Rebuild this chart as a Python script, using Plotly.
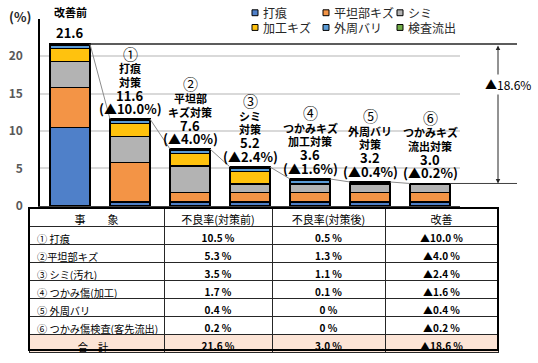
import plotly.graph_objects as go

# ---------------- data ----------------
categories = ["改善前", "①", "②", "③", "④", "⑤", "⑥"]
measure_line1 = ["打痕", "平坦部", "シミ", "つかみキズ", "外周バリ", "つかみキズ"]
measure_line2 = ["対策", "キズ対策", "対策", "加工対策", "対策", "流出対策"]
series_names = ["打痕", "平坦部キズ", "シミ", "加工キズ", "外周バリ", "検査流出"]

dakon = [10.5, 0.5, 0.5, 0.5, 0.5, 0.5, 0.5]
heitanbu_kizu = [5.3, 5.3, 1.3, 1.3, 1.3, 1.3, 1.3]
shimi = [3.5, 3.5, 3.5, 1.1, 1.1, 1.1, 1.1]
kakou_kizu = [1.7, 1.7, 1.7, 1.7, 0.1, 0.1, 0.1]
gaishu_bari = [0.4, 0.4, 0.4, 0.4, 0.4, 0.0, 0.0]
kensa_ryushutsu = [0.2, 0.2, 0.2, 0.2, 0.2, 0.2, 0.0]
series_values = [dakon, heitanbu_kizu, shimi, kakou_kizu, gaishu_bari, kensa_ryushutsu]

table_items = ["① 打痕", "②平坦部キズ", "③ シミ(汚れ)", "④ つかみ傷(加工)",
               "⑤ 外周バリ", "⑥ つかみ傷検査(客先流出)"]
table_total_label = "合　計"
table_headers = ["事　　象", "不良率(対策前)", "不良率(対策後)", "改善"]
y_ticks = [0, 5, 10, 15, 20, 25]
y_tick_labels = ["0", "5", "10", "15", "20", ""]

# ---------------- styles ----------------
colors = ["#4f80c9", "#f39446", "#b3b3b3", "#ffc20e", "#5b9bd5", "#70ad47"]
FONT = "Noto Sans CJK JP"
W, H = 538, 363


def px(x):
    return x / W


def py(y):
    return 1 - y / H


X_DOM = [px(40), px(460)]
Y_DOM = [py(210), py(19)]
BARGAP = 1 / 3
HALF = (1 - BARGAP) / 2
n = len(categories)


def xcat(idx):
    return X_DOM[0] + (idx + 0.5) / n * (X_DOM[1] - X_DOM[0])


totals = [round(sum(s[i] for s in series_values), 1) for i in range(n)]

fig = go.Figure()
for name, vals, col in zip(series_names, series_values, colors):
    fig.add_trace(go.Bar(
        x=categories, y=vals, name=name, marker=dict(color=col, line=dict(color="black", width=1.5)),
        showlegend=False, hoverinfo="skip"))

# ---------------- table ----------------
before = [s[0] for s in series_values]
after = [s[-1] for s in series_values]
improve = [round(b - a, 1) for b, a in zip(before, after)]


def fmt(v):
    return "0 %" if v == 0 else f"{v:.1f} %"


col1 = [t.replace(" ", "\u00a0") for t in table_items] + ["\u3000\u3000\u3000\u3000" + table_total_label]
col2 = [fmt(v) for v in before] + [fmt(totals[0])]
col3 = [fmt(v) for v in after] + [fmt(totals[-1])]
col4 = [f"▲{v:.1f} %" for v in improve] + [f"▲{totals[0]-totals[-1]:.1f} %"]
nrow = len(col1)
fill_col = ["white"] * (nrow - 1) + ["#fce4d6"]

fig.add_trace(go.Table(
    domain=dict(x=[px(29), px(498)], y=[py(360), py(212)]),
    columnwidth=[135, 108, 113, 113],
    header=dict(values=table_headers, fill_color="white", align="center",
                line=dict(color="#262626", width=1),
                font=dict(size=11, color="black", family=FONT), height=19),
    cells=dict(values=[col1, col2, col3, col4],
               fill_color=[fill_col] * 4,
               align=["left", "center", "center", "center"],
               line=dict(color="#262626", width=1),
               font=dict(size=[10.2, 10, 10, 10], color="black", family=FONT,
                         weight=["normal", "bold", "bold", "bold"]), height=18),
))

# ---------------- shapes ----------------
shapes = []
for i in range(n - 1):
    shapes.append(dict(type="line", xref="x", yref="y", x0=i + HALF, y0=totals[i],
                       x1=i + 1 - HALF, y1=totals[i + 1], line=dict(color="#8c8c8c", width=1)))
shapes.append(dict(type="line", xref="paper", yref="y", x0=xcat(HALF), x1=px(517),
                   y0=totals[0], y1=totals[0], line=dict(color="#262626", width=1.5)))
shapes.append(dict(type="line", xref="paper", yref="y", x0=xcat(n - 1 + HALF), x1=px(517),
                   y0=totals[-1], y1=totals[-1], line=dict(color="#404040", width=1)))
# table outer border
shapes.append(dict(type="rect", xref="paper", yref="paper", x0=px(29), x1=px(498),
                   y0=py(357), y1=py(212), line=dict(color="black", width=2)))

# manual legend
legend_pos = [(252, 13), (323, 13), (397, 13), (252, 28), (323, 28), (397, 28)]
annotations = []
for (lx, ly), name, col in zip(legend_pos, series_names, colors):
    shapes.append(dict(type="rect", xref="paper", yref="paper", x0=px(lx), x1=px(lx + 6),
                       y0=py(ly + 3), y1=py(ly - 3), fillcolor=col,
                       line=dict(color="black", width=1)))
    annotations.append(dict(x=px(lx + 9), y=py(ly), xref="paper", yref="paper", text=name,
                            showarrow=False, xanchor="left", yanchor="middle",
                            font=dict(size=12, color="#262626", family=FONT)))

# ---------------- bar labels ----------------


def label(cat, total, text, offset, size, bold=True):
    annotations.append(dict(x=cat, y=total, xref="x", yref="y", xanchor="center",
                            yanchor="middle", yshift=offset, showarrow=False, text=text,
                            font=dict(size=size, color="black", family=FONT,
                                      weight="bold" if bold else "normal")))


label(categories[0], totals[0], f"{totals[0]:.1f}", 12, 13)
label(categories[0], totals[0], categories[0], 32, 11)
for i in range(1, n):
    diff = totals[i - 1] - totals[i]
    label(categories[i], totals[i], f"(▲{diff:.1f}%)", 10.5, 13)
    label(categories[i], totals[i], f"{totals[i]:.1f}", 24, 13)
    label(categories[i], totals[i], measure_line2[i - 1], 37.5, 11)
    label(categories[i], totals[i], measure_line1[i - 1], 51, 11)
    label(categories[i], totals[i], categories[i], 66, 15, bold=False)

# double arrow
annotations.append(dict(x=px(498), xref="paper", y=totals[-1], yref="y",
                        ax=0, axref="pixel", ay=totals[0], ayref="y", text="",
                        showarrow=True, arrowhead=2, arrowside="end+start",
                        arrowwidth=1, arrowsize=0.9, arrowcolor="#262626"))
annotations.append(dict(x=px(508), y=py(86), xref="paper", yref="paper",
                        xanchor="center", yanchor="middle",
                        text=f"▲{totals[0]-totals[-1]:.1f}%", showarrow=False,
                        bgcolor="white", font=dict(size=12, color="black", family=FONT)))
# axis unit
annotations.append(dict(x=px(20), y=py(17), xref="paper", yref="paper", text="<b>(%)</b>",
                        xanchor="center", yanchor="middle",
                        showarrow=False, font=dict(size=13, color="#262626", family=FONT)))

fig.update_layout(
    width=W, height=H, margin=dict(l=0, r=0, t=0, b=0),
    paper_bgcolor="white", plot_bgcolor="white",
    barmode="stack", bargap=BARGAP, showlegend=False,
    font=dict(family=FONT),
    xaxis=dict(type="category", domain=X_DOM, range=[-0.5, n - 0.5], showticklabels=False,
               showline=True, linecolor="#404040", linewidth=1.5, showgrid=False,
               ticks="", zeroline=False),
    yaxis=dict(domain=Y_DOM, range=[0, 25], tickvals=y_ticks, ticktext=y_tick_labels,
               showgrid=True, gridcolor="#d9d9d9", gridwidth=1.5, showline=True,
               linecolor="black", linewidth=1.5, ticks="", zeroline=False,
               ticklabelstandoff=13,
               tickfont=dict(size=12, color="#595959", family=FONT, weight="bold")),
    shapes=shapes, annotations=annotations,
)

fig.write_html("out.html", config={"displayModeBar": False},
               post_script="document.body.style.margin='0';")
